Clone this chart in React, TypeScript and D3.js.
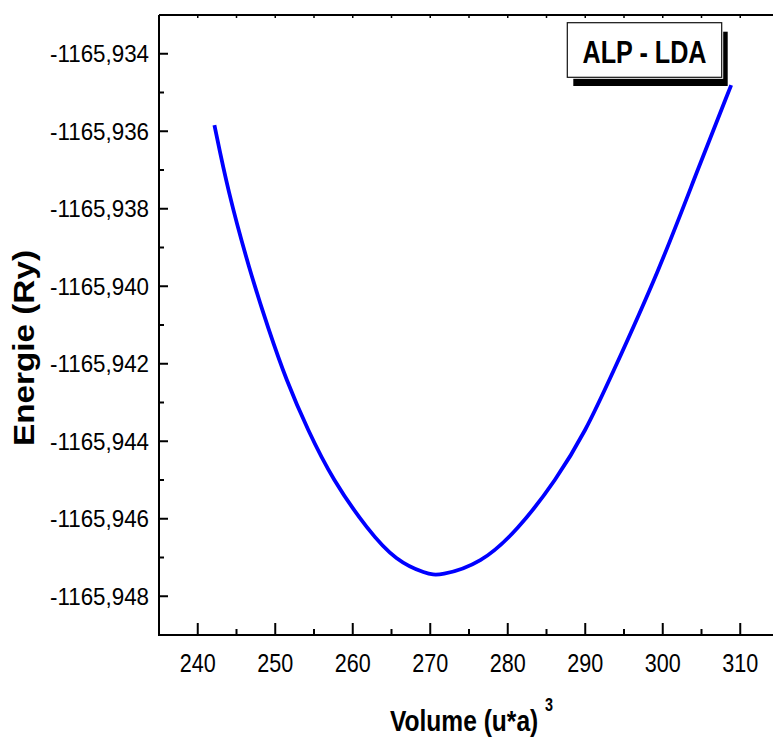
import React from "react";
import * as d3 from "d3";

const volume = [242.15, 243.87, 246.67, 249.16, 251.41, 254.19, 257.42, 261.94, 265.6, 269.47, 271.19, 276.57, 281.29, 286.25, 290.12, 293.12, 299.57, 304.48, 308.83];
const energy = [-1165.93584, -1165.93752, -1165.93958, -1165.94113, -1165.94242, -1165.94371, -1165.945, -1165.94629, -1165.94709, -1165.94742, -1165.94748, -1165.94716, -1165.94629, -1165.945, -1165.94371, -1165.94242, -1165.93958, -1165.937, -1165.93481];

const xTicks = [240, 250, 260, 270, 280, 290, 300, 310];
const xMinorTicks = [245, 255, 265, 275, 285, 295, 305];
const yTicks = [-1165.934, -1165.936, -1165.938, -1165.94, -1165.942, -1165.944, -1165.946, -1165.948];
const yTickLabels = ["-1165,934", "-1165,936", "-1165,938", "-1165,940", "-1165,942", "-1165,944", "-1165,946", "-1165,948"];
const yMinorTicks = [-1165.935, -1165.937, -1165.939, -1165.941, -1165.943, -1165.945, -1165.947];
const legendLabel = "ALP - LDA";
const xTitle = "Volume (u*a)";
const xTitleSup = "3";
const yTitle = "Energie (Ry)";

const W = 773;
const H = 739;
const left = 159;
const top = 15;
const bottom = 635;
const FONT = "'Liberation Sans', Arial, Helvetica, sans-serif";

export default function App() {
  const x = d3.scaleLinear().domain([235, 315]).range([left, 779]);
  const y = d3.scaleLinear().domain([-1165.949, -1165.933]).range([bottom, top]);
  const pts: [number, number][] = volume.map((v, i) => [v, energy[i]]);
  const line = d3
    .line<[number, number]>()
    .x((d) => x(d[0]))
    .y((d) => y(d[1]))
    .curve(d3.curveBasis);

  return (
    <svg width={W} height={H} style={{ position: "absolute", left: 0, top: 0, background: "#fff" }} fontFamily={FONT}>
      <rect x={0} y={0} width={W} height={H} fill="#fff" />
      {/* curve */}
      <path d={line(pts) || ""} fill="none" stroke="#0000ff" strokeWidth={3.8} strokeLinejoin="round" />

      {/* axes */}
      <line x1={left} x2={W} y1={top} y2={top} stroke="#000" strokeWidth={2} />
      <line x1={left} x2={W} y1={bottom} y2={bottom} stroke="#000" strokeWidth={2} />
      <line x1={left} x2={left} y1={top} y2={bottom + 1} stroke="#000" strokeWidth={2} />

      {/* x ticks */}
      {xTicks.map((t) => (
        <g key={"xt" + t}>
          <line x1={x(t)} x2={x(t)} y1={bottom} y2={bottom - 12} stroke="#000" strokeWidth={2} />
          <line x1={x(t)} x2={x(t)} y1={top} y2={top + 3} stroke="#000" strokeWidth={1.5} />
          <text x={x(t)} y={bottom + 37} textAnchor="middle" fontSize={25} textLength={36} lengthAdjust="spacingAndGlyphs">
            {String(t)}
          </text>
        </g>
      ))}
      {xMinorTicks.map((t) => (
        <g key={"xm" + t}>
          <line x1={x(t)} x2={x(t)} y1={bottom} y2={bottom - 6} stroke="#000" strokeWidth={2} />
          <line x1={x(t)} x2={x(t)} y1={top} y2={top + 3} stroke="#000" strokeWidth={1.5} />
        </g>
      ))}

      {/* y ticks */}
      {yTicks.map((t, i) => (
        <g key={"yt" + i}>
          <line x1={left} x2={left + 9} y1={y(t)} y2={y(t)} stroke="#000" strokeWidth={2} />
          <text x={149} y={y(t) + 8.6} textAnchor="end" fontSize={24} textLength={99} lengthAdjust="spacingAndGlyphs">
            {yTickLabels[i]}
          </text>
        </g>
      ))}
      {yMinorTicks.map((t, i) => (
        <line key={"ym" + i} x1={left} x2={left + 5} y1={y(t)} y2={y(t)} stroke="#000" strokeWidth={2} />
      ))}

      {/* axis titles */}
      <text transform="translate(390, 731) scale(0.847, 1)" fontSize={29} fontWeight="bold">
        {xTitle}
      </text>
      <text x={545} y={711} fontSize={18} fontWeight="bold" textLength={8} lengthAdjust="spacingAndGlyphs">
        {xTitleSup}
      </text>
      <text
        transform={`translate(34, 348) rotate(-90)`}
        textAnchor="middle"
        fontSize={30}
        fontWeight="bold"
        textLength={196}
        lengthAdjust="spacingAndGlyphs"
      >
        {yTitle}
      </text>

      {/* legend */}
      <rect x={573.3} y={31.7} width={154.4} height={54.3} fill="#000" />
      <rect x={565.8} y={21.2} width={157.4} height={57.6} fill="#fff" />
      <rect x={567.3} y={22.7} width={154.4} height={54.6} fill="#fff" stroke="#111" strokeWidth={1.2} />
      <text x={644.5} y={62.5} textAnchor="middle" fontSize={32} fontWeight="bold" textLength={124} lengthAdjust="spacingAndGlyphs">
        {legendLabel}
      </text>
    </svg>
  );
}
